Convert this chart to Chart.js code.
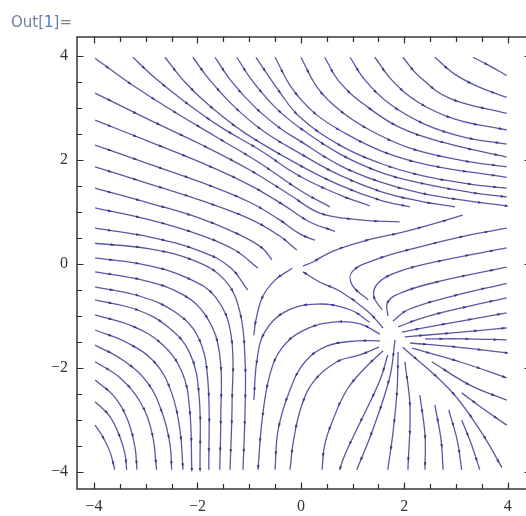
<!DOCTYPE html>
<html>
<head>
<meta charset="utf-8">
<script src="https://cdn.jsdelivr.net/npm/chart.js@4.4.0/dist/chart.umd.min.js"></script>
<style>
  html, body { margin: 0; padding: 0; background: #fff; overflow: hidden; }
  #wrap { position: relative; width: 531px; height: 516px; }
</style>
</head>
<body>
<div id="wrap"><canvas id="myChart"></canvas></div>
<script>
// streamlines, [x, y] in plot units, listed in flow order

// from the top edge, bending off to the right edge
const topRight1 = [[3.33,3.98],[3.66,3.81],[3.98,3.63]];
const topRight2 = [[2.59,3.98],[2.98,3.65],[3.46,3.40],[3.98,3.21]];
const topRight3 = [[1.97,3.98],[2.30,3.60],[2.88,3.19],[3.98,2.90]];
const topRight4 = [[1.43,3.98],[1.76,3.54],[2.26,3.12],[2.98,2.79],[3.98,2.58]];
const topRight5 = [[0.95,3.98],[1.24,3.54],[1.72,3.08],[2.40,2.69],[3.17,2.44],[3.98,2.31]];
const topRight6 = [[0.46,3.98],[0.75,3.50],[1.24,3.06],[1.91,2.63],[2.79,2.33],[3.98,2.06]];
const topRight7 = [[0,3.98],[0.33,3.38],[0.75,2.96],[1.33,2.58],[2.11,2.23],[3.08,2.00],[3.98,1.87]];
const topRight8 = [[-0.50,3.98],[-0.17,3.38],[0.27,2.90],[0.85,2.52],[1.62,2.15],[2.50,1.90],[3.98,1.67]];

// from the top edge, diagonal, flattening above the saddle
const topDiag1 = [[-0.87,3.98],[-0.41,3.31],[-0.02,2.83],[0.75,2.29],[1.53,1.94],[2.30,1.71],[3.27,1.54],[3.98,1.46]];
const topDiag2 = [[-1.24,3.98],[-0.95,3.54],[-0.50,3.02],[-0.02,2.62],[0.75,2.12],[1.53,1.77],[2.30,1.56],[3.27,1.38],[3.98,1.29]];
const topDiag3 = [[-1.66,3.98],[-1.33,3.50],[-0.89,3.02],[-0.41,2.62],[-0.02,2.37],[0.75,1.90],[1.53,1.58],[2.30,1.37],[3.27,1.21],[3.98,1.12]];
const topDiag4 = [[-2.09,3.98],[-1.76,3.54],[-1.28,3.02],[-0.70,2.54],[-0.02,2.13],[0.75,1.71],[1.53,1.40],[2.30,1.21],[2.98,1.10]];
const topDiag5 = [[-2.63,3.98],[-2.24,3.50],[-1.76,3.04],[-1.08,2.52],[-0.02,1.90],[0.75,1.52],[1.53,1.23],[2.11,1.10]];
const topDiag6 = [[-3.25,3.98],[-2.82,3.58],[-2.24,3.12],[-1.57,2.65],[-0.79,2.19],[-0.02,1.69],[0.75,1.33],[1.33,1.12]];
const cornerLine = [[-3.98,3.96],[-3.31,3.48],[-2.53,2.98],[-1.66,2.46],[-0.79,1.94],[-0.02,1.42],[0.56,1.10]];

// from the left edge, running into the saddle
const leftUp1 = [[-3.98,3.29],[-2.92,2.77],[-1.95,2.31],[-0.99,1.81],[-0.21,1.33],[0.37,0.98],[1.14,0.85],[1.91,0.81]];
const leftUp2 = [[-3.98,2.77],[-2.92,2.35],[-1.95,1.96],[-0.99,1.52],[-0.31,1.12],[0.17,0.81],[0.66,0.63]];
const leftUp3 = [[-3.98,2.29],[-2.92,1.92],[-1.95,1.58],[-0.99,1.19],[-0.41,0.85],[-0.02,0.58],[0.27,0.46]];
const leftUp4 = [[-3.98,1.87],[-2.92,1.54],[-1.95,1.23],[-0.99,0.87],[-0.41,0.54],[-0.08,0.27]];
const leftUp5 = [[-3.98,1.46],[-2.92,1.17],[-1.95,0.88],[-1.18,0.56],[-0.75,0.31],[-0.56,0.08]];
const leftUp6 = [[-3.98,1.08],[-2.92,0.85],[-1.95,0.56],[-1.28,0.27],[-0.83,-0.08]];
const leftUp7 = [[-3.98,0.69],[-2.92,0.52],[-1.95,0.25],[-1.37,-0.06],[-1.03,-0.50]];

// from the left edge, bending down to the bottom edge
const leftDown1 = [[-3.98,0.40],[-2.92,0.29],[-2.05,0.06],[-1.47,-0.31],[-1.18,-0.92],[-1.08,-1.85],[-1.08,-2.81],[-1.12,-3.96]];
const leftDown2 = [[-3.98,0.12],[-3.00,-0.02],[-2.19,-0.27],[-1.64,-0.65],[-1.35,-1.37],[-1.33,-2.62],[-1.37,-3.96]];
const leftDown3 = [[-3.98,-0.15],[-3.06,-0.31],[-2.30,-0.58],[-1.82,-1.02],[-1.57,-1.75],[-1.55,-3.00],[-1.57,-3.96]];
const leftDown4 = [[-3.98,-0.44],[-3.11,-0.62],[-2.44,-0.92],[-1.99,-1.40],[-1.80,-2.23],[-1.78,-3.96]];
const leftDown5 = [[-3.98,-0.69],[-3.17,-0.88],[-2.57,-1.21],[-2.15,-1.71],[-1.97,-2.52],[-1.95,-3.96]];
const leftDown6 = [[-3.98,-0.98],[-3.27,-1.19],[-2.69,-1.54],[-2.30,-2.08],[-2.15,-2.81],[-2.11,-3.96]];
const leftDown7 = [[-3.98,-1.27],[-3.35,-1.52],[-2.82,-1.90],[-2.50,-2.48],[-2.34,-3.19],[-2.28,-3.96]];
const leftDown8 = [[-3.98,-1.56],[-3.44,-1.85],[-2.96,-2.29],[-2.67,-2.90],[-2.53,-3.48],[-2.50,-3.96]];
const leftDown9 = [[-3.98,-1.88],[-3.50,-2.19],[-3.11,-2.65],[-2.88,-3.25],[-2.79,-3.96]];
const leftDown10 = [[-3.98,-2.23],[-3.60,-2.56],[-3.35,-3.00],[-3.21,-3.52],[-3.17,-3.96]];
const leftDown11 = [[-3.98,-2.65],[-3.69,-2.94],[-3.50,-3.33],[-3.40,-3.67],[-3.37,-3.96]];
const leftDown12 = [[-3.98,-3.10],[-3.83,-3.33],[-3.69,-3.62],[-3.60,-3.96]];

// around the saddle
const saddleNE = [[0.04,-0.04],[0.23,0.04],[0.62,0.25],[1.28,0.46],[1.91,0.60],[2.69,0.81],[3.13,0.94]];
const saddleSW = [[-0.17,-0.08],[-0.50,-0.31],[-0.74,-0.63],[-0.87,-1.08],[-0.91,-1.37]];
const sourceToSaddle = [[1.59,-1.23],[1.28,-0.90],[0.75,-0.52],[0.37,-0.35],[0.04,-0.15]];

// out of the source, to the right edge
const east1 = [[1.30,-0.69],[0.99,-0.40],[0.99,-0.15],[1.43,0.08],[2.30,0.33],[3.27,0.56],[3.98,0.69]];
const east2 = [[1.57,-0.88],[1.41,-0.62],[1.49,-0.37],[1.88,-0.15],[2.69,0.06],[3.98,0.31]];
const east3 = [[1.68,-1.00],[1.68,-0.73],[1.97,-0.54],[2.69,-0.33],[3.98,-0.06]];
const east4 = [[1.78,-1.10],[2.07,-0.88],[2.88,-0.63],[3.98,-0.37]];
const east5 = [[1.88,-1.21],[2.34,-1.04],[3.17,-0.83],[3.98,-0.65]];
const east6 = [[1.95,-1.31],[2.69,-1.17],[3.98,-0.94]];
const east7 = [[2.01,-1.40],[2.88,-1.33],[3.98,-1.23]];
const east8 = [[2.40,-1.44],[3.17,-1.44],[3.98,-1.46]];
const sourceRight1 = [[2.11,-1.52],[3.02,-1.60],[3.98,-1.71]];
const sourceRight2 = [[2.15,-1.62],[3.13,-1.90],[3.98,-2.19]];
const sourceRight3 = [[2.53,-1.88],[3.27,-2.33],[3.98,-2.62]];
const sourceRight4 = [[3.11,-2.48],[3.56,-2.81],[3.98,-3.10]];
const sourceDiag = [[1.97,-1.60],[2.88,-2.42],[3.46,-3.19],[3.89,-3.92]];

// out of the source, to the bottom edge
const sourceDown1 = [[3.11,-3.00],[3.30,-3.48],[3.46,-3.96]];
const sourceDown2 = [[2.86,-2.81],[3.02,-3.38],[3.11,-3.96]];
const sourceDown3 = [[2.59,-2.71],[2.71,-3.38],[2.75,-3.96]];
const sourceDown4 = [[2.30,-2.52],[2.40,-3.29],[2.40,-3.96]];
const sourceDown5 = [[2.01,-1.88],[2.11,-2.75],[2.07,-3.96]];
const sourceDown6 = [[1.88,-1.69],[1.86,-2.42],[1.78,-3.25],[1.68,-3.96]];
const sourceDown7 = [[1.82,-1.46],[1.72,-2.17],[1.39,-3.19],[1.08,-3.96]];
const sourceDown8 = [[1.68,-1.75],[1.53,-2.23],[1.14,-3.06],[0.85,-3.67],[0.75,-3.96]];

// out of the source, arching over to the lower left
const arc1 = [[1.33,-1.12],[0.95,-0.88],[0.31,-0.77],[-0.31,-0.92],[-0.70,-1.31],[-0.85,-1.85],[-0.91,-2.62]];
const arc2 = [[1.53,-1.35],[1.14,-1.15],[0.62,-1.12],[0.02,-1.29],[-0.37,-1.62],[-0.60,-2.13],[-0.75,-3.00],[-0.83,-3.96]];
const arc3 = [[1.53,-1.48],[1.08,-1.48],[0.50,-1.58],[0.08,-1.88],[-0.21,-2.42],[-0.44,-3.19],[-0.50,-3.96]];
const arc4 = [[1.51,-1.60],[1.14,-1.75],[0.70,-1.88],[0.27,-2.23],[0.02,-2.71],[-0.14,-3.38],[-0.21,-3.96]];
const arc5 = [[1.59,-1.67],[1.24,-2.00],[0.89,-2.42],[0.62,-3.00],[0.46,-3.48],[0.41,-3.96]];

const labelTicks = [-4, -2, 0, 2, 4];
const frameTicks = [-4, -3.5, -3, -2.5, -2, -1.5, -1, -0.5, 0, 0.5, 1, 1.5, 2, 2.5, 3, 3.5, 4];

const streamlines = [
  topRight1, topRight2, topRight3, topRight4, topRight5, topRight6, topRight7, topRight8,
  topDiag1, topDiag2, topDiag3, topDiag4, topDiag5, topDiag6, cornerLine,
  leftUp1, leftUp2, leftUp3, leftUp4, leftUp5, leftUp6, leftUp7,
  leftDown1, leftDown2, leftDown3, leftDown4, leftDown5, leftDown6,
  leftDown7, leftDown8, leftDown9, leftDown10, leftDown11, leftDown12,
  saddleNE, saddleSW, sourceToSaddle,
  east1, east2, east3, east4, east5, east6, east7, east8,
  sourceRight1, sourceRight2, sourceRight3, sourceRight4, sourceDiag,
  sourceDown1, sourceDown2, sourceDown3, sourceDown4, sourceDown5, sourceDown6, sourceDown7, sourceDown8,
  arc1, arc2, arc3, arc4, arc5
];

const lineColor = 'rgb(88,88,166)';
const arrowColor = 'rgb(58,58,132)';

const fmt = v => (v < 0 ? '\u2212' + Math.abs(v) : String(v));

function arrowHead(ctx, x, y, ang) {
  ctx.save();
  ctx.translate(x, y);
  ctx.rotate(ang);
  ctx.beginPath();
  ctx.moveTo(2.2, 0);
  ctx.lineTo(-1.8, -1.4);
  ctx.lineTo(-1.8, 1.4);
  ctx.closePath();
  ctx.fill();
  ctx.restore();
}

// small heads along each drawn curve, following the bezier the line element uses
function arrowsAlong(ctx, pts, spacing) {
  let next = spacing * 0.55, acc = 0;
  for (let i = 0; i < pts.length - 1; i++) {
    const a = pts[i], b = pts[i + 1];
    const c1x = a.cp2x ?? a.x, c1y = a.cp2y ?? a.y;
    const c2x = b.cp1x ?? b.x, c2y = b.cp1y ?? b.y;
    let px = a.x, py = a.y;
    for (let s = 1; s <= 20; s++) {
      const t = s / 20, u = 1 - t;
      const x = u*u*u*a.x + 3*u*u*t*c1x + 3*u*t*t*c2x + t*t*t*b.x;
      const y = u*u*u*a.y + 3*u*u*t*c1y + 3*u*t*t*c2y + t*t*t*b.y;
      acc += Math.hypot(x - px, y - py);
      if (acc >= next) {
        arrowHead(ctx, x, y, Math.atan2(y - py, x - px));
        next += spacing;
      }
      px = x; py = y;
    }
  }
}

const framePlugin = {
  id: 'frame',
  afterDatasetsDraw(chart) {
    const ctx = chart.ctx, area = chart.chartArea;
    ctx.save();
    ctx.beginPath();
    ctx.rect(area.left, area.top, area.right - area.left, area.bottom - area.top);
    ctx.clip();
    ctx.fillStyle = arrowColor;
    chart.data.datasets.forEach((ds, i) => {
      arrowsAlong(ctx, chart.getDatasetMeta(i).data, 27);
    });
    ctx.restore();
  },
  afterDraw(chart) {
    const ctx = chart.ctx, area = chart.chartArea;
    const xs = chart.scales.x, ys = chart.scales.y;
    ctx.save();
    ctx.strokeStyle = '#2a2a2a';
    ctx.lineWidth = 1.4;
    ctx.strokeRect(area.left, area.top, area.right - area.left, area.bottom - area.top);
    ctx.lineWidth = 1.2;
    ctx.beginPath();
    frameTicks.forEach(v => {
      const len = labelTicks.includes(v) ? 6.5 : 5;
      const px = Math.round(xs.getPixelForValue(v)) + 0.5;
      const py = Math.round(ys.getPixelForValue(v)) + 0.5;
      ctx.moveTo(px, area.bottom); ctx.lineTo(px, area.bottom - len);
      ctx.moveTo(px, area.top); ctx.lineTo(px, area.top + len);
      ctx.moveTo(area.left, py); ctx.lineTo(area.left + len, py);
      ctx.moveTo(area.right, py); ctx.lineTo(area.right - len, py);
    });
    ctx.stroke();

    ctx.font = "15px 'DejaVu Sans', sans-serif";
    ctx.textBaseline = 'alphabetic';
    let x = 11;
    const parts = [['Out[', '#72809c'], ['1', '#4b78c4'], [']=', '#72809c']];
    parts.forEach(([txt, col]) => {
      ctx.fillStyle = col;
      ctx.fillText(txt, x, 27);
      x += ctx.measureText(txt).width;
    });
    ctx.restore();
  }
};

const tickFont = { family: "'Liberation Serif', 'Times New Roman', serif", size: 16 };

const config = {
  type: 'scatter',
  data: {
    datasets: streamlines.map(line => ({
      data: line.map(p => ({ x: p[0], y: p[1] })),
      showLine: true,
      borderColor: lineColor,
      borderWidth: 1.3,
      pointRadius: 0,
      pointHoverRadius: 0,
      tension: 0.4,
      fill: false
    }))
  },
  options: {
    animation: false,
    responsive: true,
    maintainAspectRatio: false,
    events: [],
    layout: { padding: { top: 37, right: 0, left: 0, bottom: 0 } },
    plugins: { legend: { display: false }, tooltip: { enabled: false } },
    scales: {
      x: {
        type: 'linear',
        position: 'bottom',
        min: -4.33,
        max: 4.45,
        afterBuildTicks: s => { s.ticks = labelTicks.map(v => ({ value: v })); },
        afterFit: s => { s.height = 27; },
        grid: { display: false, drawTicks: false },
        border: { display: false },
        ticks: { padding: 8, color: '#333', font: tickFont, maxRotation: 0, autoSkip: false, callback: v => fmt(v) }
      },
      y: {
        type: 'linear',
        position: 'left',
        min: -4.33,
        max: 4.37,
        afterBuildTicks: s => { s.ticks = labelTicks.map(v => ({ value: v })); },
        afterFit: s => { s.width = 77; },
        grid: { display: false, drawTicks: false },
        border: { display: false },
        ticks: { padding: 9, color: '#333', font: tickFont, autoSkip: false, callback: v => fmt(v) }
      }
    }
  },
  plugins: [framePlugin]
};

const myChart = new Chart(document.getElementById('myChart'), config);
</script>
</body>
</html>
